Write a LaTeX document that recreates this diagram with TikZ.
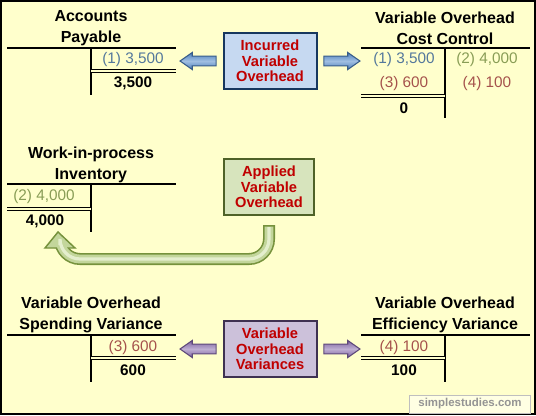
\documentclass[tikz,border=0pt]{standalone}
\usepackage{fontspec}
\setmainfont{Liberation Sans}
\usetikzlibrary{positioning,shapes.arrows,calc}
\definecolor{paper}{RGB}{255,255,204}
\definecolor{boxred}{RGB}{192,0,0}
\definecolor{entblue}{RGB}{84,120,156}
\definecolor{entgreen}{RGB}{137,157,86}
\definecolor{entbrown}{RGB}{165,82,76}
\definecolor{incfill}{RGB}{198,217,241}
\definecolor{incline}{RGB}{23,55,94}
\definecolor{appfill}{RGB}{215,228,189}
\definecolor{appline}{RGB}{79,98,40}
\definecolor{varfill}{RGB}{204,193,218}
\definecolor{varline}{RGB}{63,49,81}
\definecolor{arrblue}{RGB}{79,129,189}
\definecolor{arrbluelt}{RGB}{160,190,225}
\definecolor{arrblued}{RGB}{56,93,138}
\definecolor{arrpurp}{RGB}{128,100,162}
\definecolor{arrpurplt}{RGB}{190,175,210}
\definecolor{arrpurpd}{RGB}{94,73,122}
\definecolor{ugreen}{RGB}{118,146,60}
\definecolor{ugreenlt}{RGB}{195,214,155}
\definecolor{ugreenxl}{RGB}{228,238,205}

\begin{document}
\begin{tikzpicture}[x=0.75pt,y=-0.75pt,
    title/.style={font=\fontsize{12}{15.5}\selectfont\bfseries,align=center},
    ent/.style={font=\fontsize{11.5}{13}\selectfont,inner sep=1pt},
    tot/.style={font=\fontsize{11.5}{13}\selectfont\bfseries,inner sep=1pt},
    tline/.style={line width=1.4pt},
    dline/.style={double=paper,double distance=1.1pt,line width=0.7pt},
    evbox/.style={draw,line width=1.5pt,align=center,font=\fontsize{11}{11.6}\selectfont\bfseries,
      text=boxred,minimum width=69.75pt,minimum height=42pt,inner sep=0pt},
    barrow/.style={single arrow,single arrow head extend=2.8pt,single arrow tip angle=70,
      inner xsep=0pt,inner ysep=3.2pt,minimum height=27pt,line width=0.8pt},
    wm/.style={fill=white!45!paper,draw=black!25,line width=0.6pt,inner sep=0pt,
      minimum width=90.75pt,minimum height=13.5pt,text=black!42,
      font=\fontsize{8.6}{10}\selectfont\bfseries}]
  \useasboundingbox (0,0) rectangle (536,415);
  \fill[paper] (0,0) rectangle (536,415);
  \draw[line width=1.5pt] (1,1) rectangle (535,414);

  % event boxes
  \node[evbox,fill=incfill,draw=incline] (inc) at (270,61) {Incurred\\Variable\\Overhead};
  \node[evbox,fill=appfill,draw=appline,minimum width=67.5pt] (app) at (269,187) {Applied\\Variable\\Overhead};
  \node[evbox,fill=varfill,draw=varline] (var) at (270,349) {Variable\\Overhead\\Variances};

  % accounts payable
  \node[title] (ap) at (91,28) {Accounts\\Payable};
  \draw[tline] (7,48) -- (176,48) (91,48) -- (91,95);
  \node[ent,text=entblue] (apcr) at (133,60) {(1) 3,500};
  \draw[dline] (91,71) -- (176,71);
  \node[tot] (aptot) at (133,83) {3,500};

  % variable overhead cost control
  \node[title] (vocc) at (445,28) {Variable Overhead\\Cost Control};
  \draw[tline] (361,48) -- (530,48) (445,48) -- (445,118);
  \node[ent,text=entblue] (voccdr1) at (404,60) {(1) 3,500};
  \node[ent,text=entgreen] (vocccr2) at (487,60) {(2) 4,000};
  \node[ent,text=entbrown] (voccdr3) at (404,84) {(3) 600};
  \node[ent,text=entbrown] (vocccr4) at (487,84) {(4) 100};
  \draw[dline] (361,96) -- (445,96);
  \node[tot] (vocctot) at (404,108) {0};

  % work-in-process
  \node[title] (wip) at (91,165) {Work-in-process\\Inventory};
  \draw[tline] (7,184) -- (176,184) (91,184) -- (91,232);
  \node[ent,text=entgreen] (wipdr) at (44,197) {(2) 4,000};
  \draw[dline] (7,209) -- (91,209);
  \node[tot] (wiptot) at (45,221) {4,000};

  % spending variance
  \node[title] (spv) at (91,315) {Variable Overhead\\Spending Variance};
  \draw[tline] (7,335) -- (176,335) (91,335) -- (91,382);
  \node[ent,text=entbrown] (spvcr) at (133,348) {(3) 600};
  \draw[dline] (91,358) -- (176,358);
  \node[tot] (spvtot) at (133,370) {600};

  % efficiency variance
  \node[title] (efv) at (445,315) {Variable Overhead\\Efficiency Variance};
  \draw[tline] (361,335) -- (530,335) (445,335) -- (445,382);
  \node[ent,text=entbrown] (efvdr) at (404,348) {(4) 100};
  \draw[dline] (361,358) -- (445,358);
  \node[tot] (efvtot) at (404,370) {100};

  % block arrows
  \node[barrow,draw=arrblued,top color=arrblue,bottom color=arrblue,middle color=arrbluelt,
    shape border rotate=180] (incl) at ($(inc.west)+(-21,0)$) {};
  \node[barrow,draw=arrblued,top color=arrblue,bottom color=arrblue,middle color=arrbluelt]
    (incr) at ($(inc.east)+(21,0)$) {};
  \node[barrow,draw=arrpurpd,top color=arrpurp,bottom color=arrpurp,middle color=arrpurplt,
    shape border rotate=180] (varl) at ($(var.west)+(-21,0)$) {};
  \node[barrow,draw=arrpurpd,top color=arrpurp,bottom color=arrpurp,middle color=arrpurplt]
    (varr) at ($(var.east)+(21,0)$) {};

  % u-turn arrow to work-in-process
  \coordinate (utop) at ($(app.south)+(0,9)$);
  \coordinate (ucorner) at (60,259);
  \coordinate (uend) at (60,248);
  \coordinate (wiptip) at (58,232);
  \draw[line width=9pt,ugreen,rounded corners=15] (utop) |- (ucorner) -- (uend);
  \filldraw[fill=ugreenlt,draw=ugreen,line width=1.1pt,line join=miter]
    ($(uend)+(-15,0)$) -- (wiptip) -- ($(uend)+(15,0)$) -- cycle;
  \draw[line width=6.6pt,ugreenlt,rounded corners=15] ($(utop)+(0,1.5)$) |- (ucorner) -- ($(uend)+(0,-2)$);
  \draw[line width=2.4pt,ugreenxl,rounded corners=15] ($(utop)+(0,2)$) |- (ucorner) -- ($(uend)+(0,-3)$);

  \node[wm] (site) at (470,404) {simplestudies.com};
\end{tikzpicture}
\end{document}
